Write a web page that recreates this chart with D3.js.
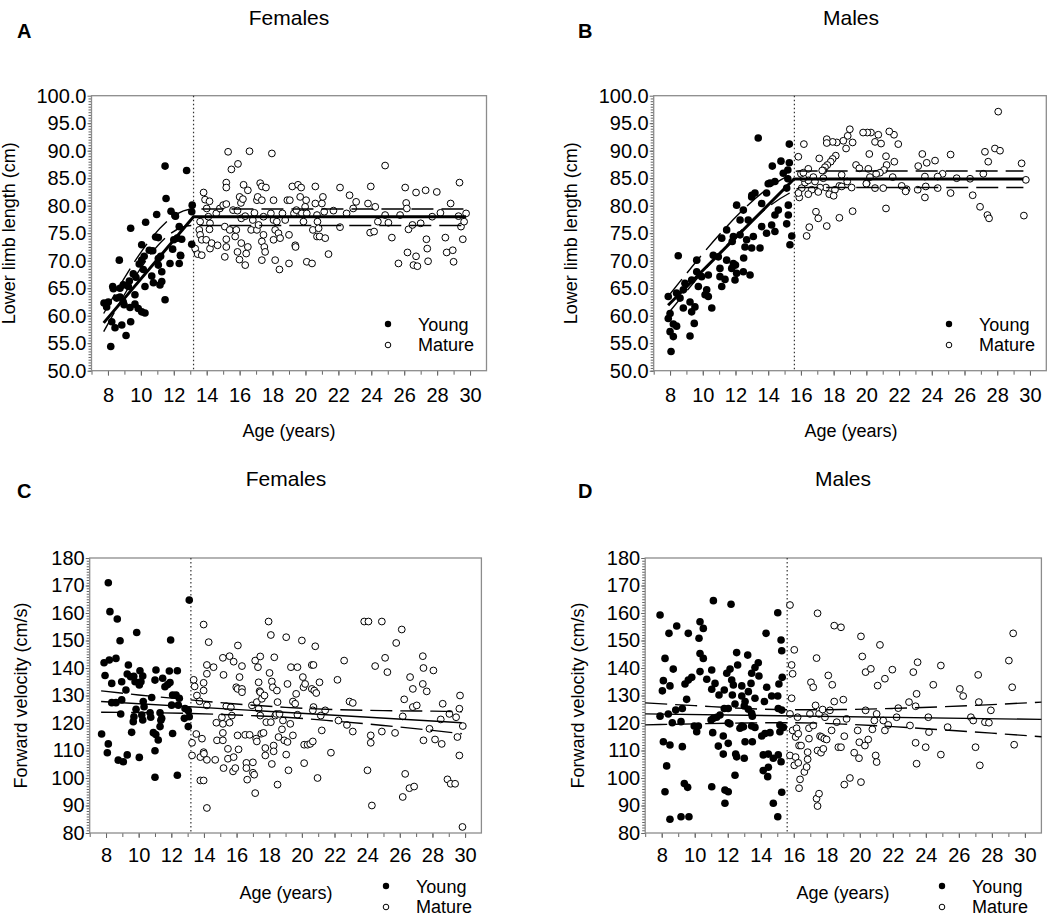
<!DOCTYPE html>
<html>
<head>
<meta charset="utf-8">
<script src="https://cdn.jsdelivr.net/npm/d3@7"></script>
<style>
  body { margin: 0; background: #fff; }
  svg { font-family: "Liberation Sans", Arial, sans-serif; }
</style>
</head>
<body>
<svg id="chart" width="1050" height="918"></svg>
<script>
// tick labels
const ageTicks = [8, 10, 12, 14, 16, 18, 20, 22, 24, 26, 28, 30];
const lengthTicks = [50, 55, 60, 65, 70, 75, 80, 85, 90, 95, 100];
const speedTicks = [80, 90, 100, 110, 120, 130, 140, 150, 160, 170, 180];

// age at maturity (dotted line)
const femaleMaturity = 13.2;
const maleMaturity = 15.6;

// A: females, lower limb length [age, cm]
const femaleLengthYoung = [[11.47,87.2],[12.78,86.4],[11.53,81.3],[13.12,80.1],[11.83,79.0],[12.07,78.2],[10.96,78.4],[10.29,77.0],[9.38,75.9],[13.09,78.9],[11.06,74.2],[12.33,76.2],[12.21,74.1],[11.93,72.1],[12.48,73.9],[13.09,73.0],[10.05,72.9],[10.51,71.9],[10.72,71.8],[12.42,70.9],[11.77,69.5],[12.33,69.5],[8.69,70.1],[10.05,70.1],[9.9,69.4],[10.15,68.4],[11.06,70.4],[11.06,69.2],[11.27,68.0],[10.66,67.2],[9.54,67.6],[9.7,67.0],[8.93,65.6],[9.24,65.3],[8.29,65.3],[8.33,64.9],[10.25,65.3],[10.76,66.0],[11.16,65.6],[11.27,66.2],[9.64,63.8],[8.73,63.4],[8.53,63.2],[8.02,62.5],[7.76,62.3],[7.92,61.6],[8.93,62.5],[8.98,62.0],[11.47,62.9],[9.64,62.1],[9.84,61.3],[10.05,60.7],[10.25,60.5],[9.34,61.5],[8.23,58.9],[8.84,58.3],[9.38,58.9],[8.43,57.8],[9.1,56.4],[8.17,54.4],[8.73,65.0],[9.3,66.3],[10.2,70.8],[12.4,71.0],[12.0,73.8],[12.1,78.1],[11.2,70.8],[10.9,74.3]];
const femaleLengthMature = [[13.81,82.4],[13.9,81.1],[14.17,80.8],[14.0,79.5],[14.1,78.0],[14.2,76.8],[14.17,75.7],[13.6,77.1],[13.55,75.6],[13.6,74.7],[13.7,73.8],[13.3,72.2],[13.45,71.2],[13.7,71.0],[13.97,73.8],[14.2,72.2],[14.3,73.2],[14.66,72.8],[14.58,78.6],[14.8,79.5],[15.0,80.1],[15.19,84.2],[15.19,83.3],[15.3,89.8],[15.5,86.6],[15.9,87.6],[15.19,80.3],[15.1,76.2],[15.19,73.9],[15.19,72.5],[15.1,70.7],[15.4,75.6],[15.6,79.2],[15.87,79.1],[15.73,74.4],[15.8,75.6],[15.87,71.6],[15.99,70.2],[16.0,81.6],[16.08,80.5],[16.1,77.7],[16.1,73.2],[16.2,81.2],[16.24,83.8],[16.34,78.1],[16.4,71.3],[16.34,69.2],[16.5,82.8],[16.6,89.9],[16.5,72.5],[16.7,75.6],[16.8,77.4],[16.9,78.7],[17.05,81.0],[17.1,81.6],[17.25,84.1],[17.35,83.5],[17.35,81.0],[17.45,78.0],[17.45,74.7],[17.35,73.5],[17.5,72.5],[17.55,71.6],[17.6,83.3],[17.35,70.1],[17.05,75.6],[17.15,76.5],[17.96,89.5],[18.06,81.0],[17.9,78.6],[18.06,77.4],[18.16,75.6],[18.06,73.8],[18.16,70.1],[18.26,77.1],[18.36,75.0],[18.42,68.4],[18.46,74.1],[18.6,78.6],[18.77,77.4],[18.9,81.0],[19.0,74.7],[19.05,81.0],[19.0,69.5],[19.2,83.5],[19.3,78.6],[19.38,72.8],[19.4,72.5],[19.45,79.2],[19.55,83.8],[19.68,81.6],[19.74,83.3],[19.78,78.6],[19.88,77.1],[19.98,79.8],[20.04,81.0],[20.08,78.6],[20.08,69.8],[20.4,69.5],[20.45,75.6],[20.6,83.5],[20.6,80.4],[20.7,78.3],[20.73,77.1],[20.7,74.4],[20.8,75.9],[20.86,74.4],[21.0,80.4],[21.06,81.6],[21.14,78.9],[21.2,74.1],[21.4,71.2],[21.7,79.1],[22.1,83.3],[22.1,76.1],[22.5,78.6],[22.68,81.9],[22.9,79.5],[23.08,80.7],[23.8,80.4],[23.97,83.5],[23.93,75.1],[24.17,75.3],[24.24,79.8],[24.4,77.1],[24.84,87.3],[24.84,78.3],[25.04,76.9],[25.25,74.2],[25.65,69.5],[25.75,78.3],[26.06,83.3],[26.12,80.5],[26.16,79.5],[26.2,71.5],[26.26,75.7],[26.5,76.5],[26.56,69.2],[26.72,82.4],[26.72,70.8],[26.8,69.0],[27.0,76.8],[27.3,82.8],[27.35,73.9],[27.4,72.2],[27.45,69.9],[27.7,78.0],[27.98,82.5],[28.2,78.7],[28.5,74.2],[28.58,71.5],[28.82,80.4],[28.95,71.9],[29.0,69.8],[29.36,84.2],[29.3,78.1],[29.45,76.2],[29.56,73.9],[29.64,77.1],[29.76,78.6]];
const femaleLengthFit = [[7.74,58.7],[13.2,78.0],[29.76,78.0]];
const femaleLengthUpper = [[7.74,60.4],[13.2,79.4],[29.76,79.4]];
const femaleLengthLower = [[7.74,57.1],[13.05,76.4],[29.76,76.4]];

// B: males, lower limb length [age, cm]
const maleLengthYoung = [[13.39,92.3],[15.29,91.2],[14.25,87.2],[14.78,88.1],[15.29,87.8],[14.92,85.9],[15.2,86.5],[14.41,84.4],[14.11,84.1],[13.9,82.3],[13.19,82.3],[12.99,81.6],[15.13,83.2],[15.2,84.9],[12.07,80.1],[13.6,80.4],[12.48,79.2],[14.62,79.2],[15.23,80.1],[15.23,78.3],[12.28,77.4],[12.78,77.4],[14.41,78.3],[13.6,76.2],[14.21,76.5],[15.13,76.7],[14.41,75.3],[15.44,74.5],[15.33,72.9],[11.46,75.6],[11.87,74.4],[12.28,74.7],[11.16,74.1],[12.68,73.8],[13.09,74.4],[12.58,72.5],[12.99,72.3],[13.5,72.3],[10.64,71.0],[10.95,70.7],[9.63,70.1],[8.5,70.9],[11.46,70.1],[11.87,69.5],[12.0,69.2],[11.05,68.6],[12.07,67.7],[12.48,68.0],[12.89,67.4],[11.77,68.6],[9.63,68.0],[10.34,67.4],[9.93,67.1],[9.32,66.5],[11.05,67.1],[11.36,66.6],[11.97,66.5],[11.16,65.3],[8.91,65.9],[8.81,64.7],[10.24,64.7],[10.14,63.8],[10.34,63.5],[7.89,63.5],[8.4,64.1],[8.61,63.2],[9.22,62.5],[9.52,61.6],[10.55,61.4],[8.81,61.4],[9.32,60.7],[8.0,60.4],[7.89,59.5],[8.2,58.5],[8.4,58.1],[9.48,58.6],[8.0,57.1],[8.2,56.2],[9.22,56.3],[8.06,53.5],[9.73,65.3],[13.0,81.9],[14.0,84.0],[11.8,73.5],[12.5,70.5],[13.9,75.0]];
const maleLengthMature = [[28.06,97.1],[27.86,90.4],[28.17,90.0],[27.25,89.8],[27.45,88.0],[27.15,85.8],[26.5,81.9],[26.95,79.8],[27.4,78.3],[27.5,77.7],[26.34,84.9],[29.49,87.7],[29.75,84.7],[29.63,78.2],[25.15,89.3],[25.15,82.3],[25.52,85.0],[24.66,85.8],[24.36,85.3],[24.36,83.2],[24.2,88.2],[23.69,87.8],[23.42,89.4],[23.17,87.2],[23.58,85.3],[23.63,83.5],[23.58,81.5],[23.14,82.9],[22.46,83.0],[22.4,82.6],[22.16,83.6],[21.71,88.0],[21.95,91.2],[21.69,92.9],[21.4,93.5],[21.61,85.2],[21.2,89.0],[21.24,87.4],[21.2,79.5],[20.73,92.9],[20.53,91.6],[20.9,91.3],[21.08,86.5],[20.83,86.0],[20.6,85.8],[21.03,83.2],[20.53,83.2],[20.28,93.3],[20.06,93.3],[19.8,93.3],[20.18,89.4],[20.12,86.7],[20.22,85.2],[20.02,84.1],[19.16,91.5],[18.99,93.9],[18.86,92.7],[18.76,90.4],[18.59,91.8],[18.19,91.5],[17.94,91.6],[17.58,92.1],[17.58,91.4],[18.13,89.1],[17.94,88.5],[17.82,88.0],[17.61,87.4],[17.47,87.0],[17.37,86.4],[17.12,88.6],[19.37,87.4],[19.57,86.8],[18.49,85.6],[18.83,84.4],[18.35,83.6],[18.49,83.5],[19.1,83.3],[20.0,84.0],[19.16,79.0],[18.35,77.8],[17.58,76.3],[17.06,77.7],[16.92,78.9],[16.51,76.1],[16.35,74.5],[18.08,82.9],[17.73,82.1],[18.0,81.8],[17.53,83.3],[17.17,83.3],[17.06,82.5],[16.66,82.9],[16.45,82.1],[16.05,83.2],[15.9,81.5],[15.85,82.3],[16.25,84.2],[16.45,84.6],[16.76,85.2],[16.86,84.4],[17.37,85.0],[16.15,85.0],[16.0,85.8],[16.45,86.7],[16.15,86.0],[16.18,91.2],[15.84,88.9],[17.3,86.4]];
const maleLengthFit = [[7.88,61.9],[15.58,84.85],[29.6,84.85]];
const maleLengthUpper = [[7.88,63.5],[15.3,85.6],[15.8,86.3],[29.6,86.3]];
const maleLengthLower = [[7.88,60.4],[15.5,82.6],[16.0,83.3],[29.6,83.3]];

// C: females, forward velocity [age, cm/s]
const femaleSpeedYoung = [[8.14,171.0],[8.24,160.5],[8.69,157.8],[9.88,152.9],[8.86,149.9],[11.96,150.2],[13.1,164.7],[7.88,141.9],[8.2,142.9],[8.61,143.5],[7.94,137.3],[8.35,134.4],[9.37,141.1],[9.3,137.8],[9.51,136.8],[9.7,137.0],[10.08,139.0],[10.25,137.1],[10.14,135.0],[10.04,133.8],[9.78,135.0],[8.96,135.0],[9.22,132.0],[11.06,139.3],[11.47,136.3],[11.88,138.9],[12.37,139.0],[11.0,135.6],[11.92,134.7],[11.78,134.0],[11.61,133.2],[12.08,130.2],[12.29,130.2],[12.49,129.0],[8.35,127.4],[8.61,127.4],[8.96,128.4],[10.8,129.3],[8.9,123.3],[9.84,125.0],[10.33,125.9],[9.71,122.3],[9.67,120.5],[10.19,122.9],[10.25,121.1],[10.7,123.7],[10.74,122.1],[11.31,123.7],[11.41,121.7],[11.36,121.0],[12.43,126.5],[12.02,126.5],[12.84,125.3],[13.04,124.5],[13.1,122.3],[12.8,121.7],[13.04,118.7],[11.31,118.7],[10.9,116.5],[11.05,115.8],[11.2,113.8],[12.08,116.2],[9.57,116.6],[7.73,116.0],[8.14,112.4],[8.08,109.2],[11.0,109.9],[9.3,108.4],[8.75,106.5],[9.06,105.9],[10.04,107.5],[11.0,100.3],[12.37,101.0],[10.28,127.8]];
const femaleSpeedMature = [[13.37,135.7],[13.43,133.3],[13.57,130.0],[13.73,127.9],[13.27,112.8],[13.27,108.2],[13.53,116.0],[13.88,114.3],[13.78,107.6],[13.98,109.4],[14.0,108.8],[14.18,106.6],[13.98,155.8],[14.29,149.4],[14.18,141.1],[14.18,137.9],[13.98,134.6],[13.98,131.8],[14.18,126.4],[14.59,140.3],[14.69,106.6],[13.78,99.1],[13.98,99.1],[14.18,89.1],[14.76,120.1],[14.8,113.7],[15.16,143.7],[15.2,137.5],[15.1,122.1],[15.16,119.7],[15.16,116.4],[15.16,113.7],[15.2,103.6],[15.37,126.1],[15.47,110.6],[15.47,107.0],[15.57,144.3],[15.57,120.1],[15.65,125.7],[15.71,122.7],[15.82,142.3],[15.82,107.6],[15.78,102.4],[15.92,103.6],[15.98,133.0],[16.06,132.4],[16.08,148.2],[16.06,115.5],[16.12,110.4],[16.18,136.7],[16.33,132.4],[16.33,131.2],[16.33,140.7],[16.53,115.7],[16.6,105.5],[16.6,103.6],[16.65,99.4],[16.8,115.7],[16.94,126.4],[17.0,105.7],[17.0,101.9],[17.08,101.2],[17.14,94.5],[17.14,142.7],[17.24,127.6],[17.2,114.3],[17.24,113.3],[17.31,140.3],[17.35,134.8],[17.41,131.6],[17.35,125.2],[17.45,144.2],[17.45,131.2],[17.45,122.7],[17.51,116.1],[17.55,128.8],[17.65,116.4],[17.71,130.0],[17.76,108.2],[17.76,110.9],[17.82,120.3],[17.96,156.9],[18.02,138.2],[18.1,152.0],[18.1,120.3],[18.16,105.1],[18.16,135.1],[18.22,133.0],[18.27,111.8],[18.27,109.7],[18.31,143.9],[18.37,122.7],[18.43,123.3],[18.47,131.8],[18.51,127.6],[18.51,97.6],[18.57,114.9],[18.63,123.3],[18.78,117.7],[18.84,120.9],[18.92,113.7],[19.04,108.5],[19.04,151.2],[19.12,113.1],[19.12,134.2],[19.18,102.8],[19.29,119.7],[19.33,140.3],[19.45,115.5],[19.45,127.8],[19.59,127.0],[19.65,130.6],[19.73,140.3],[19.73,123.0],[20.0,150.0],[20.06,136.7],[20.14,105.4],[20.1,133.0],[20.14,112.1],[20.2,134.2],[20.35,112.1],[20.51,112.4],[20.61,132.4],[20.61,141.1],[20.67,113.3],[20.71,141.1],[20.76,131.8],[20.82,147.9],[20.71,125.8],[20.67,124.6],[20.88,130.9],[20.96,100.0],[21.08,134.8],[21.16,122.7],[21.22,117.3],[21.43,124.6],[21.78,109.2],[22.18,135.7],[22.24,120.9],[22.59,142.7],[22.76,119.3],[22.92,127.8],[23.12,127.3],[23.12,116.9],[23.82,156.9],[24.08,156.9],[24.02,102.8],[24.22,115.5],[24.22,112.8],[24.29,90.0],[24.49,140.7],[24.9,156.9],[24.9,116.9],[25.1,143.7],[25.24,138.5],[25.71,116.4],[25.78,149.1],[26.12,154.0],[26.18,122.4],[26.27,128.6],[26.18,93.1],[26.33,101.5],[26.59,96.3],[26.63,136.7],[26.8,132.4],[26.8,125.8],[26.88,96.9],[27.04,126.4],[27.41,144.3],[27.41,134.2],[27.45,113.7],[27.45,140.0],[27.65,131.5],[27.82,117.9],[28.06,139.1],[28.16,114.0],[28.51,121.3],[28.57,112.4],[28.63,127.0],[28.92,99.5],[29.04,123.3],[29.12,97.9],[29.39,97.9],[29.45,122.1],[29.53,114.9],[29.65,125.2],[29.69,130.0],[29.65,108.2],[29.86,118.9],[29.84,82.2]];
const femaleSpeedFit = [[7.7,127.8],[29.8,120.1]];
const femaleSpeedUpper = [[7.7,131.7],[10,130.2],[13,128.5],[16,126.9],[19,125.7],[22,124.9],[25,124.5],[28,124.3],[29.8,124.1]];
const femaleSpeedLower = [[7.7,123.9],[10,123.8],[13,123.5],[16,122.9],[19,122.1],[22,120.7],[25,119.1],[28,117.3],[29.8,116.1]];

// D: males, forward velocity [age, cm/s]
const maleSpeedYoung = [[11.13,164.5],[12.2,163.2],[7.9,159.3],[15.03,160.1],[8.91,155.3],[8.44,152.6],[9.61,152.6],[10.32,156.8],[10.52,154.4],[10.26,150.8],[14.32,152.6],[15.23,150.2],[15.27,146.3],[10.32,145.3],[10.52,143.5],[8.2,143.5],[8.7,139.6],[12.54,145.6],[13.21,144.7],[13.85,141.9],[13.65,140.2],[12.6,141.1],[12.14,139.6],[11.03,139.3],[10.32,138.7],[11.94,138.1],[13.45,138.1],[13.89,137.1],[15.3,136.6],[9.82,136.6],[9.61,135.6],[9.41,134.2],[8.1,135.4],[8.5,133.5],[8.04,131.7],[10.73,135.9],[11.23,134.4],[12.24,135.6],[12.34,133.8],[12.85,133.5],[13.41,134.4],[11.03,132.3],[11.79,132.0],[13.25,131.4],[14.36,133.0],[15.1,134.2],[11.47,130.2],[12.28,130.2],[12.85,129.8],[14.66,129.8],[15.03,129.8],[9.51,128.6],[13.65,129.0],[14.22,127.8],[12.44,126.9],[13.05,127.8],[13.0,126.2],[9.25,125.3],[8.85,124.7],[11.79,125.3],[12.03,125.3],[13.25,125.0],[13.45,123.5],[15.06,125.3],[15.27,124.7],[8.4,123.3],[7.9,122.5],[11.53,122.9],[11.33,122.1],[11.13,121.7],[10.99,121.1],[13.49,122.5],[8.64,120.1],[9.17,120.5],[12.03,120.1],[12.13,119.7],[9.97,118.9],[10.22,118.9],[12.85,118.9],[12.95,118.6],[12.74,118.1],[13.45,118.9],[13.65,118.4],[15.16,119.3],[15.37,118.4],[10.12,116.8],[11.09,116.5],[14.26,116.2],[14.56,116.5],[14.06,115.3],[15.16,116.8],[11.73,115.3],[8.1,113.2],[8.5,112.0],[9.25,111.4],[11.43,111.6],[12.03,112.6],[13.05,113.2],[13.49,113.2],[11.73,108.7],[12.48,108.7],[12.54,107.7],[13.0,107.2],[14.15,108.4],[14.46,108.7],[14.76,107.2],[15.06,108.4],[15.23,105.9],[8.3,104.4],[14.15,102.7],[14.46,103.9],[14.42,100.5],[12.44,101.0],[9.37,98.0],[9.57,96.6],[11.03,96.8],[11.83,95.6],[12.03,95.0],[8.2,95.0],[15.27,94.8],[11.83,90.8],[14.76,90.8],[8.5,85.0],[9.17,85.9],[9.65,85.9],[15.03,85.9]];
const maleSpeedMature = [[15.77,162.9],[15.87,141.1],[15.93,137.9],[16.03,146.6],[15.87,129.0],[15.77,123.3],[15.77,108.2],[15.93,117.3],[16.03,104.6],[16.11,107.6],[16.17,118.1],[16.23,122.1],[16.11,114.9],[16.27,116.1],[16.32,111.8],[16.44,111.8],[16.27,105.5],[16.38,99.5],[16.32,96.3],[16.64,102.2],[16.78,104.0],[16.84,106.8],[16.84,109.4],[16.92,114.3],[16.92,118.1],[16.98,123.3],[17.04,134.8],[17.18,133.0],[17.18,119.1],[17.32,126.4],[17.38,143.6],[17.44,159.9],[17.44,110.0],[17.38,92.5],[17.44,89.8],[17.53,94.3],[17.53,123.3],[17.59,115.2],[17.65,109.2],[17.69,114.9],[17.75,124.9],[17.79,110.6],[17.85,114.3],[17.89,122.1],[17.99,114.0],[18.09,137.3],[18.19,124.6],[18.29,117.3],[18.33,133.9],[18.45,127.8],[18.45,155.4],[18.6,120.3],[18.7,111.2],[18.86,111.2],[18.86,154.8],[19.0,128.5],[19.06,115.2],[19.06,97.6],[19.2,121.5],[19.4,100.0],[19.66,109.2],[19.87,117.3],[19.95,107.2],[19.97,113.0],[20.07,98.5],[20.07,151.5],[20.15,144.2],[20.31,111.8],[20.35,138.5],[20.35,124.6],[20.51,114.0],[20.67,139.7],[20.76,117.7],[20.88,120.9],[21.02,123.3],[21.08,133.6],[20.96,108.2],[21.02,105.8],[21.22,148.4],[21.42,120.9],[21.52,136.1],[21.52,117.3],[21.72,119.3],[21.97,139.4],[22.23,122.1],[22.33,125.4],[22.98,127.6],[23.04,119.1],[23.24,138.5],[23.38,126.1],[23.38,112.8],[23.44,130.6],[23.44,105.2],[23.5,142.1],[23.99,111.2],[24.15,122.1],[24.19,116.7],[24.45,133.9],[24.91,140.9],[24.91,108.5],[25.32,118.5],[26.06,132.4],[26.26,129.8],[26.73,122.1],[26.87,120.9],[27.01,111.2],[27.17,137.5],[27.21,127.6],[27.27,104.6],[27.58,120.3],[27.82,120.1],[27.94,124.6],[29.03,142.7],[29.23,133.0],[29.29,152.6],[29.35,112.1]];
const maleSpeedFit = [[7,123.3],[31,121.3]];
const maleSpeedUpper = [[7,127.3],[10,126.3],[13,125.3],[16,124.8],[19,124.9],[22,125.3],[25,125.9],[28,126.7],[31,127.6]];
const maleSpeedLower = [[7,119.3],[10,119.7],[13,120.0],[16,120.1],[19,119.6],[22,118.7],[25,117.5],[28,116.3],[31,115.0]];

const svg = d3.select('#chart');
const tickFont = 20;

function drawPanel(p) {
  const x = d3.scaleLinear().domain([7, 31]).range([p.left, p.right]);
  const y = d3.scaleLinear().domain([p.yTicks[0], p.yTicks[p.yTicks.length - 1]]).range([p.bottom, p.top]);
  const g = svg.append('g');

  // minor ticks
  g.append('g')
    .attr('transform', `translate(${p.left},0)`)
    .call(d3.axisLeft(y).tickValues(d3.range(p.yTicks[0], p.yTicks[p.yTicks.length - 1], p.yMinor)).tickSize(3).tickFormat(''))
    .call(a => a.select('.domain').remove())
    .selectAll('line').attr('stroke', '#666');
  g.append('g')
    .attr('transform', `translate(0,${p.bottom})`)
    .call(d3.axisBottom(x).tickValues(d3.range(7, 31, 1)).tickSize(4).tickFormat(''))
    .call(a => a.select('.domain').remove())
    .selectAll('line').attr('stroke', '#666');

  // major ticks + labels
  const yAx = g.append('g')
    .attr('transform', `translate(${p.left},0)`)
    .call(d3.axisLeft(y).tickValues(p.yTicks).tickFormat(p.yFormat).tickSize(4).tickPadding(1));
  yAx.select('.domain').remove();
  yAx.selectAll('line').attr('stroke', '#666');
  yAx.selectAll('text').attr('font-size', tickFont).attr('fill', '#000').attr('font-family', '"Liberation Sans", Arial, sans-serif');

  const xAx = g.append('g')
    .attr('transform', `translate(0,${p.bottom})`)
    .call(d3.axisBottom(x).tickValues(ageTicks).tickSize(5).tickPadding(p.xPad));
  xAx.select('.domain').remove();
  xAx.selectAll('line').attr('stroke', '#666');
  xAx.selectAll('text').attr('font-size', tickFont).attr('fill', '#000').attr('font-family', '"Liberation Sans", Arial, sans-serif');

  // frame
  g.append('rect')
    .attr('x', p.left).attr('y', p.top)
    .attr('width', p.right - p.left).attr('height', p.bottom - p.top)
    .attr('fill', 'none').attr('stroke', '#8c8c8c').attr('stroke-width', 1.3);

  // maturity line
  g.append('line')
    .attr('x1', x(p.maturity)).attr('x2', x(p.maturity))
    .attr('y1', p.top).attr('y2', p.bottom)
    .attr('stroke', '#333').attr('stroke-width', 1.2).attr('stroke-dasharray', '1.5,2.5');

  // points
  g.append('g').selectAll('circle')
    .data(p.mature).enter().append('circle')
    .attr('cx', d => x(d[0])).attr('cy', d => y(d[1])).attr('r', 3.4)
    .attr('fill', '#fff').attr('stroke', '#000').attr('stroke-width', 1);
  g.append('g').selectAll('circle')
    .data(p.young).enter().append('circle')
    .attr('cx', d => x(d[0])).attr('cy', d => y(d[1])).attr('r', 3.8)
    .attr('fill', '#000');

  // fitted line and confidence bands
  const line = d3.line().x(d => x(d[0])).y(d => y(d[1]));
  const curve = d3.line().x(d => x(d[0])).y(d => y(d[1])).curve(d3.curveMonotoneX);
  g.append('path').attr('d', curve(p.upper)).attr('fill', 'none').attr('stroke', '#000')
    .attr('stroke-width', 1.4).attr('stroke-dasharray', '22,8');
  g.append('path').attr('d', curve(p.lower)).attr('fill', 'none').attr('stroke', '#000')
    .attr('stroke-width', 1.4).attr('stroke-dasharray', '22,8');
  g.append('path').attr('d', line(p.fit)).attr('fill', 'none').attr('stroke', '#000')
    .attr('stroke-width', p.fitWidth);

  // titles and labels
  svg.append('text').attr('x', p.titleX).attr('y', p.titleY).attr('text-anchor', 'middle')
    .attr('font-size', 21).text(p.title);
  svg.append('text').attr('x', p.letterX).attr('y', p.letterY)
    .attr('font-size', 20).attr('font-weight', 'bold').text(p.letter);
  svg.append('text')
    .attr('transform', `translate(${p.yLabelX},${(p.top + p.bottom) / 2}) rotate(-90)`)
    .attr('text-anchor', 'middle').attr('font-size', 18).text(p.yLabel);
  svg.append('text').attr('x', p.xLabelX).attr('y', p.xLabelY).attr('text-anchor', 'middle')
    .attr('font-size', 18).text('Age (years)');

  // legend
  const lg = svg.append('g');
  lg.append('circle').attr('cx', p.legX).attr('cy', p.legY - 7).attr('r', 3.2).attr('fill', '#000');
  lg.append('circle').attr('cx', p.legX).attr('cy', p.legY + 14).attr('r', 2.8)
    .attr('fill', '#fff').attr('stroke', '#000').attr('stroke-width', 1);
  lg.append('text').attr('x', p.legX + 30).attr('y', p.legY).attr('font-size', 18).text('Young');
  lg.append('text').attr('x', p.legX + 30).attr('y', p.legY + 20).attr('font-size', 18).text('Mature');
}

const fmt1 = d3.format('.1f');
const fmt0 = d3.format('d');

drawPanel({
  left: 91.5, right: 486.5, top: 95.7, bottom: 370.7,
  yTicks: lengthTicks, yMinor: 0.5, yFormat: fmt1, xPad: 12,
  young: femaleLengthYoung, mature: femaleLengthMature,
  fit: femaleLengthFit, upper: femaleLengthUpper, lower: femaleLengthLower, fitWidth: 3,
  maturity: femaleMaturity,
  title: 'Females', titleX: 289, titleY: 25, letter: 'A', letterX: 17, letterY: 38,
  yLabel: 'Lower limb length (cm)', yLabelX: 15, xLabelX: 289, xLabelY: 437,
  legX: 388, legY: 331
});

drawPanel({
  left: 653.7, right: 1046.3, top: 95.7, bottom: 370.7,
  yTicks: lengthTicks, yMinor: 0.5, yFormat: fmt1, xPad: 12,
  young: maleLengthYoung, mature: maleLengthMature,
  fit: maleLengthFit, upper: maleLengthUpper, lower: maleLengthLower, fitWidth: 3,
  maturity: maleMaturity,
  title: 'Males', titleX: 851, titleY: 25, letter: 'B', letterX: 578, letterY: 38,
  yLabel: 'Lower limb length (cm)', yLabelX: 577, xLabelX: 851, xLabelY: 437,
  legX: 949, legY: 331
});

drawPanel({
  left: 89.7, right: 481.4, top: 558, bottom: 833,
  yTicks: speedTicks, yMinor: 1, yFormat: fmt0, xPad: 10,
  young: femaleSpeedYoung, mature: femaleSpeedMature,
  fit: femaleSpeedFit, upper: femaleSpeedUpper, lower: femaleSpeedLower, fitWidth: 1.4,
  maturity: femaleMaturity,
  title: 'Females', titleX: 286, titleY: 486, letter: 'C', letterX: 17, letterY: 498,
  yLabel: 'Forward velocity (cm/s)', yLabelX: 27, xLabelX: 286, xLabelY: 899,
  legX: 386, legY: 893
});

drawPanel({
  left: 645.2, right: 1041.4, top: 558, bottom: 833,
  yTicks: speedTicks, yMinor: 1, yFormat: fmt0, xPad: 10,
  young: maleSpeedYoung, mature: maleSpeedMature,
  fit: maleSpeedFit, upper: maleSpeedUpper, lower: maleSpeedLower, fitWidth: 1.4,
  maturity: maleMaturity,
  title: 'Males', titleX: 843, titleY: 486, letter: 'D', letterX: 578, letterY: 498,
  yLabel: 'Forward velocity (cm/s)', yLabelX: 584, xLabelX: 843, xLabelY: 899,
  legX: 942, legY: 893
});
</script>
</body>
</html>
